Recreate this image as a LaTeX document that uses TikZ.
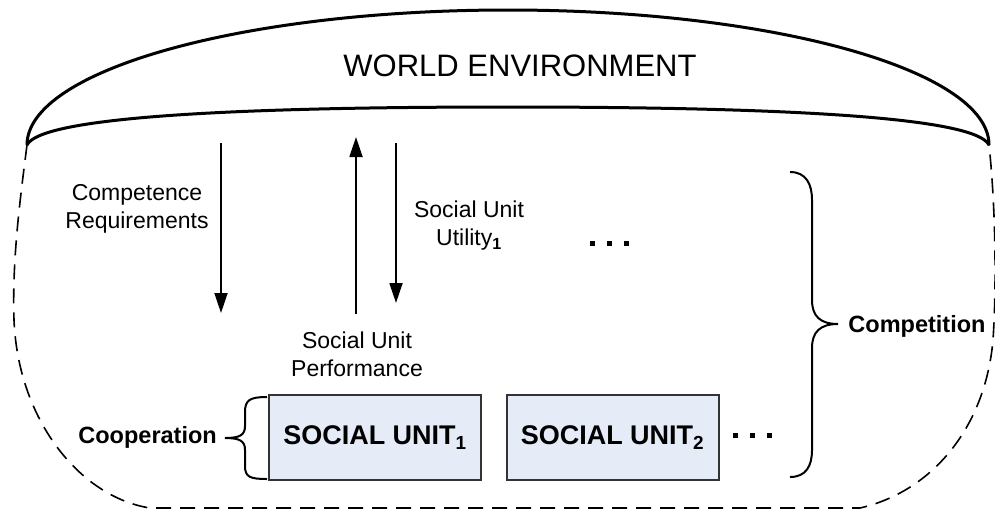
\documentclass[tikz,border=0pt]{standalone}
\usepackage{fontspec}
\setmainfont{Liberation Sans}
\usetikzlibrary{arrows.meta}
\definecolor{boxfill}{HTML}{E5ECF7}
\definecolor{boxline}{HTML}{333333}
\tikzset{
  lbl/.style={align=center,inner sep=0pt,font=\fontsize{23}{28}\selectfont},
  blbl/.style={inner sep=0pt,font=\fontsize{23.5}{28}\selectfont\bfseries},
  unitbox/.style={draw=boxline,line width=2pt,fill=boxfill,minimum width=212pt,minimum height=85pt,inner sep=0pt,font=\fontsize{27}{30}\selectfont\bfseries},
  flow/.style={line width=1.8pt,-{Triangle[length=20pt,width=13pt]}},
  arcline/.style={line width=3pt},
  bound/.style={line width=1.6pt,dash pattern=on 15pt off 9pt},
  bracel/.style={line width=2pt},
  dot/.style={fill=black,minimum size=5pt,inner sep=0pt,draw=none,rectangle}
}
\begin{document}
\begin{tikzpicture}[x=1pt,y=-1pt]
\useasboundingbox (0,0) rectangle (995,512);
% world environment dome
\coordinate (L) at (27,145);
\coordinate (R) at (989,145);
\draw[arcline] (L) arc[start angle=180,end angle=360,x radius=481,y radius=135];
\draw[arcline] (L) .. controls (40,118) and (220,107) .. (508,107) .. controls (796,107) and (976,118) .. (R);
\node[inner sep=0pt,font=\fontsize{31}{34}\selectfont] (world) at (520,66) {WORLD ENVIRONMENT};
% dashed boundary
\draw[bound] (L) .. controls (20,200) and (12,260) .. (14,320) .. controls (18,420) and (80,497) .. (150,508) -- (860,508) .. controls (930,492) and (985,430) .. (993,340) .. controls (997,280) and (995,200) .. (R);
% labels
\node[lbl] (comp) at (137,209) {Competence\\Requirements};
\node[lbl] (perf) at (357,354) {Social Unit\\Performance};
\node[lbl] (util) at (469,226) {Social Unit\\Utility\textsubscript{\bfseries 1}};
% arrows
\coordinate (c1) at (221,143); \coordinate (c2) at (221,313);
\coordinate (p1) at (356,314); \coordinate (p2) at (356,137);
\coordinate (u1) at (396,143); \coordinate (u2) at (396,303);
\draw[flow] (c1) -- (c2);
\draw[flow] (p1) -- (p2);
\draw[flow] (u1) -- (u2);
% social units
\node[unitbox] (su1) at (375,437.5) {SOCIAL UNIT\textsubscript{1}};
\node[unitbox] (su2) at (612.5,437.5) {SOCIAL UNIT\textsubscript{2}};
% dots
\node[dot] (d1) at (592,243) {};
\node[dot] (d2) at (609,243) {};
\node[dot] (d3) at (626,243) {};
\node[dot] (e1) at (735,435) {};
\node[dot] (e2) at (752,435) {};
\node[dot] (e3) at (769,435) {};
% cooperation brace
\node[blbl,anchor=east] (coop) at (217,437) {Cooperation};
\coordinate (ctip) at (225,438);
\draw[bracel] (267,397) .. controls (250,397) and (245,400) .. (245,412) -- (245,426) .. controls (245,435) and (240,438) .. (ctip) .. controls (240,438) and (245,441) .. (245,450) -- (245,466) .. controls (245,477) and (250,479) .. (267,479);
% competition brace
\coordinate (rtip) at (838,324);
\draw[bracel] (790,172) .. controls (806,172) and (812,184) .. (812,200) -- (812,300) .. controls (812,316) and (820,324) .. (rtip) .. controls (820,324) and (812,332) .. (812,348) -- (812,450) .. controls (812,466) and (806,477) .. (790,477);
\node[blbl] (compet) at (917,326) {Competition};
\end{tikzpicture}
\end{document}
